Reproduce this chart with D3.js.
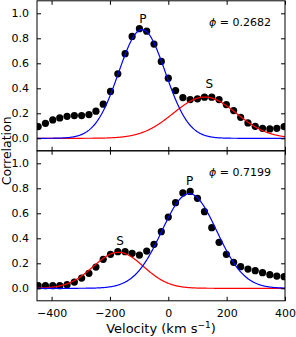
<!DOCTYPE html>
<html>
<head>
<meta charset="utf-8">
<script src="https://cdn.jsdelivr.net/npm/d3@7"></script>
<style>
  body { margin: 0; background: #fff; }
  svg { display: block; }
  text { font-family: "DejaVu Sans", sans-serif; fill: #000; }
  .tick text { font-size: 11px; }
</style>
</head>
<body>
<div id="chart"></div>
<script>
// observed velocities (km/s)
var velocity = [-446, -421, -396, -372, -347, -322, -297, -272, -248, -223, -198, -173,
    -148, -124, -99, -74, -49, -24, 0, 25, 50, 75, 100, 124, 149, 174, 199, 224,
    248, 273, 298, 323, 348, 372, 397];

// correlation values, phase 0.2682 (top panel)
var corrTop = [0.094, 0.120, 0.147, 0.163, 0.176, 0.182, 0.182, 0.190, 0.217, 0.273,
    0.375, 0.516, 0.677, 0.815, 0.877, 0.857, 0.754, 0.615, 0.481, 0.382, 0.326,
    0.310, 0.316, 0.329, 0.329, 0.310, 0.270, 0.222, 0.168, 0.123, 0.096, 0.080,
    0.075, 0.080, 0.094];

// correlation values, phase 0.7199 (bottom panel)
var corrBottom = [0.021, 0.021, 0.021, 0.021, 0.029, 0.050, 0.082, 0.120, 0.170, 0.232,
    0.272, 0.293, 0.293, 0.280, 0.266, 0.298, 0.352, 0.453, 0.570, 0.685, 0.763,
    0.775, 0.720, 0.613, 0.485, 0.368, 0.272, 0.208, 0.173, 0.154, 0.141, 0.125,
    0.109, 0.098, 0.093];

// gaussian fits: [amplitude, centre, sigma]
var primaryFit = [[0.870, -90, 80], [0.757, 72, 94]];
var secondaryFit = [[0.330, 125, 108], [0.288, -171, 86]];

var phases = ["0.2682", "0.7199"];
// component label positions [velocity, correlation]
var labelP = [[-87, 0.92], [73, 0.83]];
var labelS = [[141, 0.40], [-165, 0.35]];

var xTicks = [-400, -200, 0, 200, 400];
var yTicks = [0.0, 0.2, 0.4, 0.6, 0.8, 1.0];

var svgWidth = 296;
var svgHeight = 337;
var margin = { left: 37, right: 11, top: 0.8 };
var panelHeight = 150;
var width = svgWidth - margin.left - margin.right;

var svg = d3.select("#chart")
    .append("svg")
    .attr("width", svgWidth)
    .attr("height", svgHeight);

var xScale = d3.scaleLinear()
    .domain([-450, 400])
    .range([0, width]);

var yScale = d3.scaleLinear()
    .domain([-0.1, 1.1])
    .range([panelHeight, 0]);

function gauss(p, v) {
    return p[0] * Math.exp(-0.5 * Math.pow((v - p[1]) / p[2], 2));
}

var fitGrid = d3.range(-450, 401, 2);

var line = d3.line()
    .x(d => xScale(d[0]))
    .y(d => yScale(d[1]));

var fmtMinus = d => d3.format("d")(d).replace("-", "\u2212");

function drawPanel(i, values) {
    var g = svg.append("g")
        .attr("transform", `translate(${margin.left}, ${margin.top + i * panelHeight})`);

    var clip = "clip" + i;
    g.append("clipPath").attr("id", clip)
        .append("rect").attr("width", width).attr("height", panelHeight);

    var plot = g.append("g").attr("clip-path", `url(#${clip})`);

    // data points
    plot.selectAll("circle")
        .data(values)
        .enter()
        .append("circle")
        .attr("cx", (d, j) => xScale(velocity[j]))
        .attr("cy", d => yScale(d))
        .attr("r", 3.6)
        .attr("fill", "black");

    // fits
    plot.append("path")
        .datum(fitGrid.map(v => [v, gauss(secondaryFit[i], v)]))
        .attr("d", line)
        .attr("fill", "none")
        .attr("stroke", "#ff0000")
        .attr("stroke-width", 1.2);

    plot.append("path")
        .datum(fitGrid.map(v => [v, gauss(primaryFit[i], v)]))
        .attr("d", line)
        .attr("fill", "none")
        .attr("stroke", "#0000ff")
        .attr("stroke-width", 1.2);

    // axes with inward ticks on every side
    g.append("g")
        .attr("transform", `translate(0, ${panelHeight})`)
        .call(d3.axisBottom(xScale).tickValues(xTicks).tickSizeInner(-4).tickSizeOuter(0)
            .tickPadding(8).tickFormat(i == 1 ? fmtMinus : ""));
    g.append("g")
        .call(d3.axisTop(xScale).tickValues(xTicks).tickSizeInner(-4).tickSizeOuter(0).tickFormat(""));
    g.append("g")
        .call(d3.axisLeft(yScale).tickValues(yTicks).tickSizeInner(-4).tickSizeOuter(0)
            .tickPadding(8).tickFormat(d3.format(".1f")));
    g.append("g")
        .attr("transform", `translate(${width}, 0)`)
        .call(d3.axisRight(yScale).tickValues(yTicks).tickSizeInner(-4).tickSizeOuter(0).tickFormat(""));

    g.selectAll(".domain").remove();
    g.selectAll(".tick line").attr("stroke", "black").attr("stroke-width", 1);

    g.append("rect")
        .attr("width", width)
        .attr("height", panelHeight)
        .attr("fill", "none")
        .attr("stroke", "black")
        .attr("stroke-width", 1);

    // annotations
    g.append("text")
        .attr("x", xScale(labelP[i][0]))
        .attr("y", yScale(labelP[i][1]))
        .attr("text-anchor", "middle")
        .style("font-size", "12px")
        .text("P");
    g.append("text")
        .attr("x", xScale(labelS[i][0]))
        .attr("y", yScale(labelS[i][1]))
        .attr("text-anchor", "middle")
        .style("font-size", "12px")
        .text("S");

    var phi = g.append("text")
        .attr("x", width - 14)
        .attr("y", 25)
        .attr("text-anchor", "end")
        .style("font-size", "11px");
    phi.append("tspan").style("font-style", "italic").text("\u03d5");
    phi.append("tspan").text(" = " + phases[i]);
}

drawPanel(0, corrTop);
drawPanel(1, corrBottom);

// axis titles
svg.append("text")
    .attr("transform", `translate(11, ${margin.top + panelHeight}) rotate(-90)`)
    .attr("text-anchor", "middle")
    .style("font-size", "12.5px")
    .text("Correlation");

var xt = svg.append("text")
    .attr("x", margin.left + width / 2)
    .attr("y", 333)
    .attr("text-anchor", "middle")
    .style("font-size", "13px");
xt.append("tspan").text("Velocity (km s");
xt.append("tspan").attr("dy", -5).style("font-size", "9px").text("\u22121");
xt.append("tspan").attr("dy", 5).text(")");
</script>
</body>
</html>
